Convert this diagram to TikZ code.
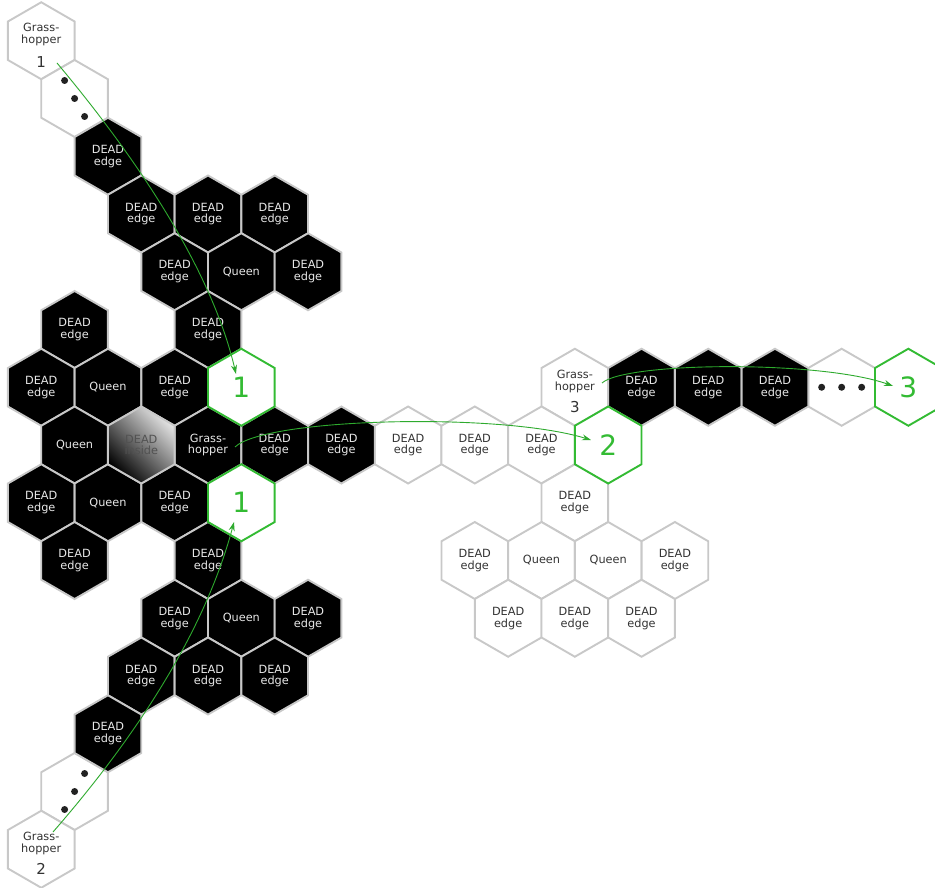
\documentclass[tikz,border=0pt]{standalone}
\usepackage{fontspec}
\setmainfont{DejaVu Sans}
\usetikzlibrary{shapes.geometric,arrows.meta,calc}
\definecolor{hexgray}{HTML}{C8C8C8}
\definecolor{hexgreen}{HTML}{33BB33}
\definecolor{arrgreen}{HTML}{2EAA2E}
\definecolor{darktext}{HTML}{333333}
\definecolor{lighttext}{HTML}{E8E8E8}
\definecolor{dotcol}{HTML}{222222}
\definecolor{insidelight}{HTML}{E4E4E4}
\begin{document}
\begin{tikzpicture}[x=1pt,y=-1pt,
  hexbase/.style={regular polygon, regular polygon sides=6, shape border rotate=30,
    minimum size=77pt, inner sep=0pt, line width=1.9pt, align=center,
    font=\fontsize{11.3}{11.8}\selectfont},
  bk/.style={hexbase, fill=black, draw=hexgray, text=lighttext},
  wh/.style={hexbase, fill=white, draw=hexgray, text=darktext},
  ins/.style={hexbase, draw=hexgray, text=darktext!85, shading=axis,
    top color=insidelight, bottom color=black, shading angle=-45},
  gr/.style={hexbase, fill=white, draw=hexgreen, text=hexgreen,
    font=\fontsize{28}{28}\selectfont},
  gtxt/.style={align=center, text=darktext, inner sep=0pt, font=\fontsize{11.3}{12}\selectfont},
  gnum/.style={text=darktext, inner sep=0pt, font=\fontsize{15}{15}\selectfont},
  dotmark/.style={fill=dotcol, draw=none},
  jump/.style={draw=arrgreen, line width=0.9pt, -{Stealth[length=9pt,width=6pt]}}
]
\useasboundingbox (0,0) rectangle (935,888);
\clip (0,0) rectangle (935,888);
\begin{scope}[shift={(208,445)}, x={(66.7pt,0pt)}, y={(33.35pt,-57.75pt)}]
  % white hexes
  \node[wh] (g1) at (1,-7) {};
  \node[wh] (d1) at (1,-6) {};
  \node[wh] (d2) at (-5,6) {};
  \node[wh] (g2) at (-6,7) {};
  \node[wh] (g3) at (6,-1) {};
  \node[wh] (d3) at (10,-1) {};
  \node[wh] (w1) at (3,0) {DEAD\\edge};
  \node[wh] (w2) at (4,0) {DEAD\\edge};
  \node[wh] (w3) at (5,0) {DEAD\\edge};
  \node[wh] (w4) at (5,1) {DEAD\\edge};
  \node[wh] (w5) at (3,2) {DEAD\\edge};
  \node[wh] (w6) at (4,2) {Queen};
  \node[wh] (w7) at (5,2) {Queen};
  \node[wh] (w8) at (6,2) {DEAD\\edge};
  \node[wh] (w9) at (3,3) {DEAD\\edge};
  \node[wh] (w10) at (4,3) {DEAD\\edge};
  \node[wh] (w11) at (5,3) {DEAD\\edge};
  % black hexes
  \node[bk] (b1) at (1,-5) {DEAD\\edge};
  \node[bk] (b2) at (1,-4) {DEAD\\edge};
  \node[bk] (b3) at (2,-4) {DEAD\\edge};
  \node[bk] (b4) at (3,-4) {DEAD\\edge};
  \node[bk] (b5) at (1,-3) {DEAD\\edge};
  \node[bk] (q1) at (2,-3) {Queen};
  \node[bk] (b6) at (3,-3) {DEAD\\edge};
  \node[bk] (b7) at (-1,-2) {DEAD\\edge};
  \node[bk] (b8) at (1,-2) {DEAD\\edge};
  \node[bk] (b9) at (-2,-1) {DEAD\\edge};
  \node[bk] (q2) at (-1,-1) {Queen};
  \node[bk] (b10) at (0,-1) {DEAD\\edge};
  \node[bk] (q3) at (-2,0) {Queen};
  \node[bk] (gh) at (0,0) {Grass-\\hopper};
  \node[bk] (b11) at (1,0) {DEAD\\edge};
  \node[bk] (b12) at (2,0) {DEAD\\edge};
  \node[bk] (b13) at (-3,1) {DEAD\\edge};
  \node[bk] (q4) at (-2,1) {Queen};
  \node[bk] (b14) at (-1,1) {DEAD\\edge};
  \node[bk] (b15) at (-3,2) {DEAD\\edge};
  \node[bk] (b16) at (-1,2) {DEAD\\edge};
  \node[bk] (b17) at (-2,3) {DEAD\\edge};
  \node[bk] (q5) at (-1,3) {Queen};
  \node[bk] (b18) at (0,3) {DEAD\\edge};
  \node[bk] (b19) at (-3,4) {DEAD\\edge};
  \node[bk] (b20) at (-2,4) {DEAD\\edge};
  \node[bk] (b21) at (-1,4) {DEAD\\edge};
  \node[bk] (b22) at (-4,5) {DEAD\\edge};
  \node[bk] (b23) at (7,-1) {DEAD\\edge};
  \node[bk] (b24) at (8,-1) {DEAD\\edge};
  \node[bk] (b25) at (9,-1) {DEAD\\edge};
  \node[ins] (di) at (-1,0) {DEAD\\inside};
  % green target hexes
  \node[gr] (t1a) at (1,-1) {1};
  \node[gr] (t1b) at (0,1) {1};
  \node[gr] (t2) at (6,0) {2};
  \node[gr] (t3) at (11,-1) {3};
\end{scope}
% grasshopper labels
\node[gtxt] (g1t) at ($(g1)+(0,-6)$) {Grass-\\hopper};
\node[gnum] (g1n) at ($(g1)+(0,21)$) {1};
\node[gtxt] (g2t) at ($(g2)+(0,-6)$) {Grass-\\hopper};
\node[gnum] (g2n) at ($(g2)+(0,20)$) {2};
\node[gtxt] (g3t) at ($(g3)+(0,-6)$) {Grass-\\hopper};
\node[gnum] (g3n) at ($(g3)+(0,20)$) {3};
% dots
\foreach \n/\dx/\dy in {d1/10/18, d2/-10/18, d3/20/0}{
  \fill[dotmark] ($(\n)+(-\dx,-\dy)$) circle (3.5);
  \fill[dotmark] (\n) circle (3.5);
  \fill[dotmark] ($(\n)+(\dx,\dy)$) circle (3.5);
}
% jump arrows
\coordinate (s1) at (57,63);
\coordinate (e1) at (236,374);
\coordinate (s2) at (53,832);
\coordinate (e2) at (234,522);
\coordinate (s3) at (235,447);
\coordinate (e3) at (591,440);
\coordinate (s4) at (602,383);
\coordinate (e4) at (893,386);
\draw[jump] (s1) .. controls (155,180) and (215,284) .. (e1);
\draw[jump] (s2) .. controls (148,723) and (208,620) .. (e2);
\draw[jump] (s3) .. controls (265,418) and (500,412) .. (e3);
\draw[jump] (s4) .. controls (625,362) and (820,360) .. (e4);
\end{tikzpicture}
\end{document}
